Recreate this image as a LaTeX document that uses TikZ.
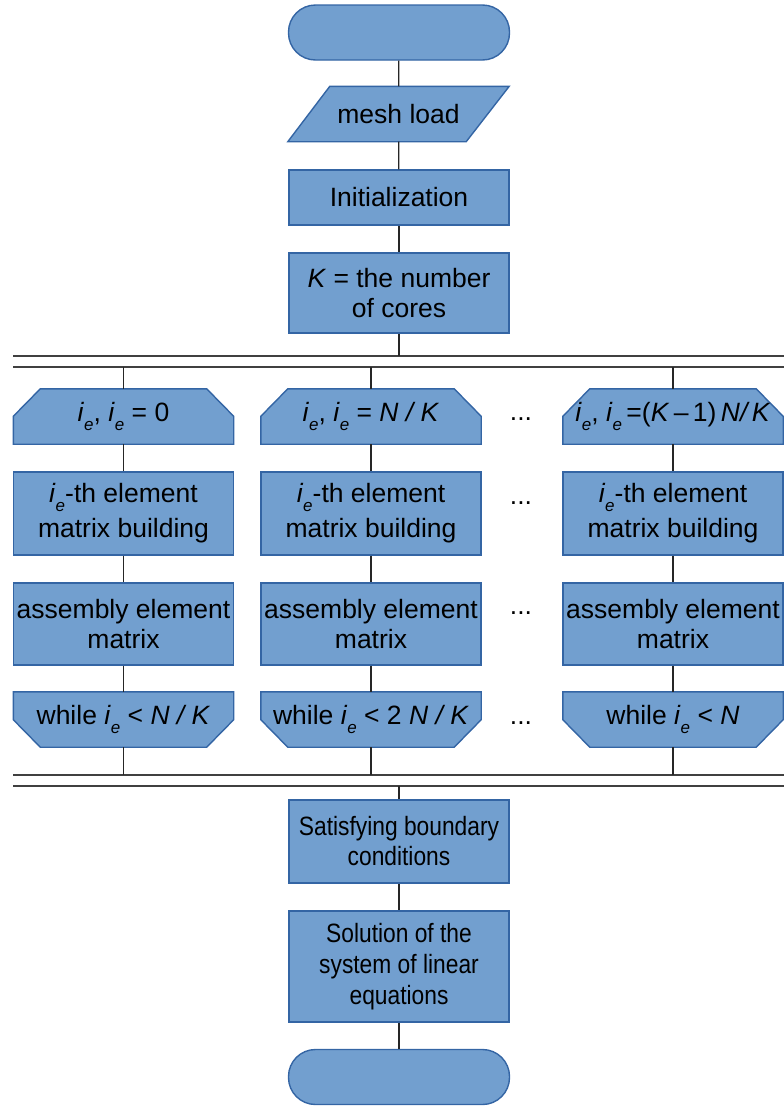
\documentclass[tikz,border=0pt]{standalone}
\usepackage{fontspec}
\setmainfont{Liberation Sans}
\newfontfamily\condfont[FakeStretch=0.86]{Liberation Sans}
\usetikzlibrary{backgrounds}
\definecolor{fillblue}{HTML}{729FCF}
\definecolor{edgeblue}{HTML}{3465A4}
\newcommand\ie{\textit{i}\raisebox{-0.33em}{\fontsize{17}{17}\selectfont\textit{e}}}
\newcommand\chamtop[1]{\filldraw[shp] ([xshift=27pt]#1.north west) -- ([xshift=-27pt]#1.north east) -- ([yshift=-27.5pt]#1.north east) -- (#1.south east) -- (#1.south west) -- ([yshift=-27.5pt]#1.north west) -- cycle;}
\newcommand\chambot[1]{\filldraw[shp] (#1.north west) -- (#1.north east) -- ([yshift=27.5pt]#1.south east) -- ([xshift=-27pt]#1.south east) -- ([xshift=27pt]#1.south west) -- ([yshift=27.5pt]#1.south west) -- cycle;}
\begin{document}
\begin{tikzpicture}[x=1pt,y=-1pt,
  txt/.style={font=\fontsize{26.5}{30}\selectfont, align=center, inner sep=0pt},
  shp/.style={fill=fillblue, draw=edgeblue, line width=1.4pt},
  term/.style={shp, rounded corners=27pt, minimum width=221pt, minimum height=55pt, inner sep=0pt},
  procbox/.style={txt, shp, minimum width=220pt},
  plain/.style={txt, minimum width=220pt, minimum height=55pt},
  conn/.style={line width=1.2pt, draw=black!85},
  bar/.style={line width=1.6pt, draw=black!75},
  dots/.style={txt, anchor=base}]
\useasboundingbox (0,0) rectangle (784,1106);

% main column top
\node[term] (start) at (399,32.5) {};
\node[plain, minimum width=221pt] (mesh) at (398.5,114) {mesh load};
\node[procbox, minimum height=55pt] (init) at (399,197.5) {Initialization};
\node[procbox, minimum height=80pt] (kb) at (399,293) {\textit{K} = the number\\of cores};

% bars
\coordinate (bar1) at (13,356);
\coordinate (bar2) at (13,367);
\coordinate (bar3) at (13,775);
\coordinate (bar4) at (13,786);
\draw[bar] (bar1) -- (784,356);
\draw[bar] (bar2) -- (784,367);
\draw[bar] (bar3) -- (784,775);
\draw[bar] (bar4) -- (784,786);

% column 1
\node[plain] (h1) at (123.5,416.5) {\ie, \ie\ = 0};
\node[procbox, minimum height=83pt] (e1) at (123.5,513.5) {\ie-th element\\[5pt]matrix building};
\node[procbox, minimum height=82pt] (a1) at (123.5,624) {assembly element\\matrix};
\node[plain] (w1) at (123.5,719.5) {while \ie\ < \textit{N / K}};

% column 2
\node[plain] (h2) at (371,416.5) {\ie, \ie\ = \textit{N / K}};
\node[procbox, minimum height=83pt] (e2) at (371,513.5) {\ie-th element\\[5pt]matrix building};
\node[procbox, minimum height=82pt] (a2) at (371,624) {assembly element\\matrix};
\node[plain] (w2) at (371,719.5) {while \ie\ < 2 \textit{N / K}};

% column 3
\node[plain] (h3) at (673,416.5) {\ie, \ie\,=(\textit{K}\,–\,1)\,\textit{N/\,K}};
\node[procbox, minimum height=83pt] (e3) at (673,513.5) {\ie-th element\\[5pt]matrix building};
\node[procbox, minimum height=82pt] (a3) at (673,624) {assembly element\\matrix};
\node[plain] (w3) at (673,719.5) {while \ie\ < \textit{N}};

% dots
\node[dots] (d1) at (521,420) {...};
\node[dots] (d2) at (521,504) {...};
\node[dots] (d3) at (521,614) {...};
\node[dots] (d4) at (521,724) {...};

% main column bottom
\node[procbox, minimum height=83pt, font=\condfont\fontsize{26.5}{30}\selectfont] (sat) at (399,841.5) {Satisfying boundary\\conditions};
\node[procbox, minimum height=111pt, font=\condfont\fontsize{26.5}{31}\selectfont] (sol) at (399,966.5) {Solution of the\\system of linear\\equations};
\node[term] (stop) at (399,1077) {};

% shapes drawn behind the texts
\begin{scope}[on background layer]
  \filldraw[shp] ([xshift=42pt]mesh.north west) -- (mesh.north east) -- ([xshift=-43pt]mesh.south east) -- (mesh.south west) -- cycle;
  \chamtop{h1}\chamtop{h2}\chamtop{h3}
  \chambot{w1}\chambot{w2}\chambot{w3}
\end{scope}

% connectors
\draw[conn] (start) -- (mesh);
\draw[conn] (mesh) -- (init);
\draw[conn] (init) -- (kb);
\draw[conn] (kb) -- (kb.south |- bar1);
\foreach \c in {1,2,3}{
  \draw[conn] (h\c.north |- bar2) -- (h\c);
  \draw[conn] (h\c) -- (e\c);
  \draw[conn] (e\c) -- (a\c);
  \draw[conn] (a\c) -- (w\c);
  \draw[conn] (w\c) -- (w\c.south |- bar3);
}
\draw[conn] (sat.north |- bar4) -- (sat);
\draw[conn] (sat) -- (sol);
\draw[conn] (sol) -- (stop);
\end{tikzpicture}
\end{document}
